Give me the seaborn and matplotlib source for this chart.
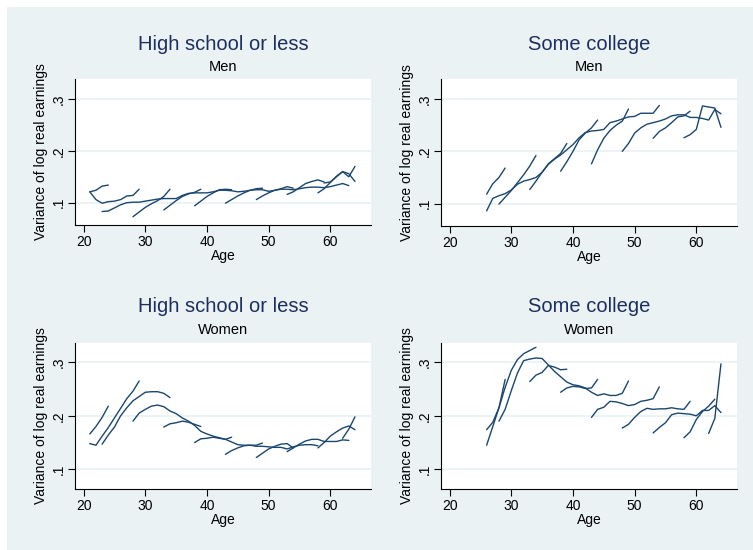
import numpy as np
import pandas as pd
import matplotlib
matplotlib.use("Agg")
import matplotlib.pyplot as plt
import seaborn as sns
from matplotlib.patches import Rectangle

sns.set_theme(style="ticks")
plt.rcParams["font.family"] = ["Liberation Sans", "DejaVu Sans"]

NAVY = "#1a476f"
BG = "#eaf2f3"
TITLE_COLOR = "#1e2f5f"

panel_titles = ["High school or less", "Some college", "High school or less", "Some college"]
panel_subtitles = ["Men", "Men", "Women", "Women"]
x_label = "Age"
y_label = "Variance of log real earnings"
x_ticks = [20, 30, 40, 50, 60]
y_ticks = [0.1, 0.2, 0.3]
y_tick_labels = [".1", ".2", ".3"]

# each entry: (first age observed, variance of log real earnings by consecutive age)
hs_men = [
    (21, [0.121, 0.124, 0.132, 0.134]),
    (21, [0.121, 0.106, 0.099, 0.102, 0.103, 0.106, 0.113, 0.114, 0.126]),
    (23, [0.083, 0.084, 0.090, 0.096, 0.100, 0.101, 0.101, 0.103, 0.105, 0.107,
          0.108, 0.108, 0.108, 0.114, 0.118, 0.119, 0.119, 0.119, 0.121, 0.124,
          0.124, 0.123, 0.121, 0.122, 0.124, 0.125, 0.125, 0.122, 0.124, 0.126,
          0.126, 0.125, 0.127, 0.129, 0.130, 0.130, 0.129, 0.131, 0.134, 0.137, 0.133]),
    (28, [0.073, 0.082, 0.091, 0.098, 0.104, 0.112, 0.126]),
    (33, [0.086, 0.095, 0.104, 0.112, 0.117, 0.120, 0.126]),
    (38, [0.094, 0.103, 0.112, 0.119, 0.125, 0.126, 0.125]),
    (43, [0.099, 0.106, 0.113, 0.119, 0.124, 0.127, 0.128]),
    (48, [0.106, 0.113, 0.119, 0.124, 0.127, 0.131, 0.128]),
    (53, [0.116, 0.121, 0.129, 0.137, 0.141, 0.144, 0.140]),
    (58, [0.119, 0.127, 0.139, 0.151, 0.160, 0.150, 0.170]),
    (59, [0.138, 0.140, 0.150, 0.160, 0.156, 0.141]),
]

sc_men = [
    (26, [0.118, 0.138, 0.150, 0.168]),
    (26, [0.086, 0.110, 0.115, 0.119, 0.126, 0.137, 0.143, 0.146, 0.150, 0.160,
          0.175, 0.185, 0.193, 0.203, 0.213, 0.226, 0.236, 0.239, 0.240, 0.242,
          0.255, 0.258, 0.262, 0.266, 0.267, 0.273, 0.273, 0.273, 0.288]),
    (28, [0.099, 0.112, 0.125, 0.140, 0.155, 0.172, 0.192]),
    (33, [0.127, 0.143, 0.160, 0.176, 0.186, 0.196, 0.215]),
    (38, [0.162, 0.180, 0.200, 0.222, 0.235, 0.245, 0.260]),
    (43, [0.176, 0.203, 0.225, 0.240, 0.250, 0.258, 0.281]),
    (48, [0.200, 0.215, 0.235, 0.245, 0.252, 0.255, 0.258, 0.262, 0.268, 0.270,
          0.270, 0.265, 0.265, 0.263, 0.260, 0.280, 0.272]),
    (53, [0.225, 0.238, 0.245, 0.255, 0.266, 0.268, 0.277]),
    (58, [0.226, 0.232, 0.242, 0.287, 0.285, 0.283, 0.246]),
]

hs_women = [
    (21, [0.166, 0.180, 0.197, 0.218]),
    (21, [0.148, 0.145, 0.162, 0.178, 0.196, 0.214, 0.232, 0.246, 0.265]),
    (23, [0.147, 0.164, 0.179, 0.200, 0.215, 0.228, 0.236, 0.244, 0.245, 0.245, 0.242, 0.234]),
    (28, [0.190, 0.205, 0.212, 0.218, 0.220, 0.217, 0.209, 0.204, 0.196, 0.190,
          0.182, 0.171, 0.166, 0.162, 0.159, 0.156, 0.151, 0.146, 0.145, 0.145,
          0.143, 0.143, 0.142, 0.141, 0.141, 0.138, 0.142, 0.145, 0.146, 0.146, 0.144]),
    (33, [0.179, 0.185, 0.187, 0.190, 0.188, 0.184, 0.180]),
    (38, [0.150, 0.157, 0.158, 0.160, 0.158, 0.156, 0.160]),
    (43, [0.128, 0.135, 0.140, 0.144, 0.145, 0.145, 0.149]),
    (48, [0.122, 0.130, 0.138, 0.143, 0.147, 0.148, 0.140]),
    (53, [0.133, 0.140, 0.147, 0.153, 0.156, 0.156, 0.152, 0.152, 0.152, 0.155, 0.154]),
    (58, [0.140, 0.150, 0.162, 0.170, 0.177, 0.181, 0.174]),
    (62, [0.158, 0.175, 0.198]),
]

sc_women = [
    (26, [0.174, 0.188, 0.215, 0.268]),
    (26, [0.145, 0.180, 0.215, 0.253, 0.285, 0.305, 0.316, 0.322, 0.328]),
    (28, [0.190, 0.212, 0.247, 0.280, 0.303, 0.306, 0.308, 0.307, 0.295, 0.283,
          0.273, 0.263, 0.258, 0.256, 0.252, 0.244, 0.238, 0.241, 0.238, 0.238,
          0.242, 0.265]),
    (33, [0.264, 0.276, 0.281, 0.294, 0.291, 0.286, 0.287]),
    (38, [0.244, 0.252, 0.255, 0.254, 0.251, 0.252, 0.268]),
    (43, [0.197, 0.212, 0.216, 0.227, 0.226, 0.223, 0.219, 0.221, 0.227, 0.229, 0.232, 0.254]),
    (48, [0.177, 0.184, 0.197, 0.208, 0.214, 0.212, 0.213, 0.213, 0.215, 0.213, 0.212, 0.227]),
    (53, [0.168, 0.178, 0.187, 0.202, 0.205, 0.204, 0.203, 0.200, 0.210, 0.210, 0.219, 0.206]),
    (58, [0.159, 0.170, 0.193, 0.208, 0.218, 0.231]),
    (62, [0.167, 0.195, 0.297]),
]

panels = [hs_men, sc_men, hs_women, sc_women]


def to_frame(cohorts):
    rows = []
    for k, (start, vals) in enumerate(cohorts):
        for i, v in enumerate(vals):
            rows.append((k, start + i, v))
    return pd.DataFrame(rows, columns=["cohort", "age", "variance"])


W, H = 753, 550
fig = plt.figure(figsize=(W / 100, H / 100), dpi=100)
fig.patch.set_facecolor("white")
fig.patches.append(Rectangle((7 / W, 0), 1 - 7 / W, 1 - 7 / H, transform=fig.transFigure,
                             facecolor=BG, edgecolor="none", zorder=-10))

# pixel boxes: left, top, right, bottom
boxes = [(75, 79, 371, 225), (441, 79, 737, 226), (75, 343, 371, 489), (441, 343, 737, 489)]
ylims = [(0.057, 0.3386), (0.057, 0.3386), (0.0632, 0.336), (0.0632, 0.336)]
title_y = [44, 44, 307, 307]
sub_y = [67, 67, 330, 330]

for idx, (cohorts, (l, t, r, b)) in enumerate(zip(panels, boxes)):
    ax = fig.add_axes([l / W, 1 - b / H, (r - l) / W, (b - t) / H])
    ax.set_facecolor("white")
    df = to_frame(cohorts)
    sns.lineplot(data=df, x="age", y="variance", units="cohort", estimator=None,
                 sort=False, color=NAVY, lw=1.0, ax=ax)
    ax.set_xlim(18.6, 66.6)
    ax.set_ylim(*ylims[idx])
    ax.set_xticks(x_ticks)
    ax.set_yticks(y_ticks)
    ax.set_yticklabels(y_tick_labels)
    ax.grid(axis="y", color=BG, lw=1.3)
    ax.grid(axis="x", visible=False)
    ax.set_axisbelow(True)
    for s in ["top", "right"]:
        ax.spines[s].set_visible(False)
    for s in ["left", "bottom"]:
        ax.spines[s].set_color("black")
        ax.spines[s].set_linewidth(0.8)
    ax.tick_params(direction="out", length=5, width=0.8, color="black",
                   labelsize=10, pad=2, labelcolor="black")
    ax.tick_params(axis="y", labelrotation=90, pad=2)
    for lab in ax.get_yticklabels():
        lab.set_va("center")
    ax.set_xlabel(x_label, fontsize=10, labelpad=0, color="black")
    ax.set_ylabel(y_label, fontsize=10, labelpad=2, color="black")
    cx = (l + r) / 2 / W
    fig.text(cx, 1 - title_y[idx] / H, panel_titles[idx], ha="center", va="center",
             fontsize=14.5, color=TITLE_COLOR)
    fig.text(cx, 1 - sub_y[idx] / H, panel_subtitles[idx], ha="center", va="center",
             fontsize=10.5, color="black")

fig.savefig("out.png", dpi=100, facecolor=fig.get_facecolor())
